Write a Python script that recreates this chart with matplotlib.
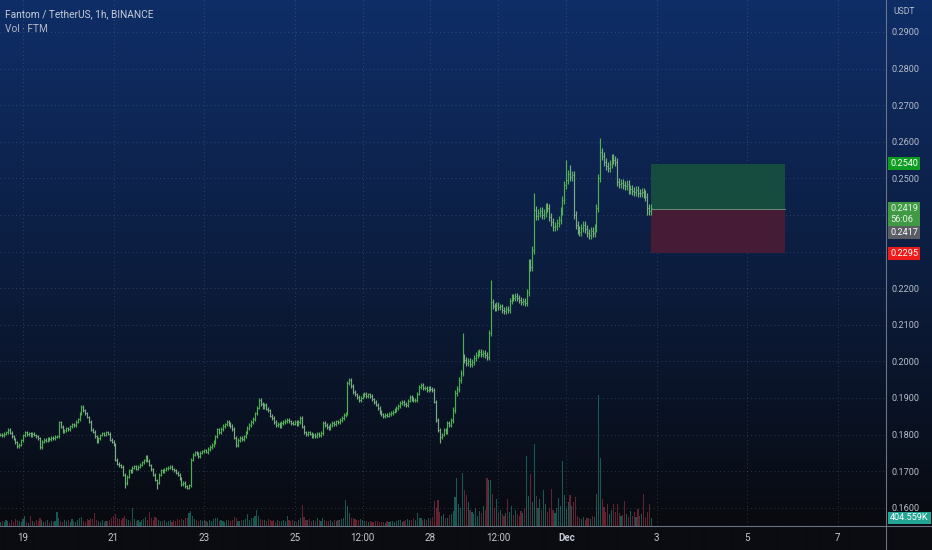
import numpy as np
import pandas as pd
import matplotlib
matplotlib.use("Agg")
import matplotlib.pyplot as plt
import matplotlib.dates as mdates
from matplotlib import font_manager
from matplotlib.lines import Line2D

# ---- data ----
start = "2020-11-18 12:00"   # first hourly bar

closes = [
    0.1800, 0.1798, 0.1802, 0.1806, 0.1813, 0.1805, 0.1796, 0.1788, 0.1779, 0.1768,
    0.1772, 0.1785, 0.1798, 0.1807, 0.1801, 0.1804, 0.1797, 0.1803, 0.1799, 0.1795,
    0.1790, 0.1766, 0.1781, 0.1786, 0.1783, 0.1789, 0.1787, 0.1792, 0.1790, 0.1794,
    0.1795, 0.1834, 0.1822, 0.1808, 0.1812, 0.1818, 0.1815, 0.1823, 0.1829, 0.1826,
    0.1835, 0.1842, 0.1858, 0.1876, 0.1866, 0.1858, 0.1848, 0.1835, 0.1813, 0.1808,
    0.1795, 0.1781, 0.1790, 0.1799, 0.1804, 0.1800, 0.1806, 0.1802, 0.1786, 0.1780,
    0.1772, 0.1731, 0.1720, 0.1716, 0.1712, 0.1690, 0.1667, 0.1685, 0.1703, 0.1698,
    0.1710, 0.1714, 0.1706, 0.1712, 0.1718, 0.1724, 0.1730, 0.1739, 0.1728, 0.1717,
    0.1705, 0.1690, 0.1676, 0.1668, 0.1690, 0.1703, 0.1699, 0.1704, 0.1708, 0.1709,
    0.1712, 0.1706, 0.1702, 0.1696, 0.1690, 0.1680, 0.1664, 0.1668, 0.1659, 0.1655,
    0.1662, 0.1731, 0.1745, 0.1752, 0.1748, 0.1741, 0.1751, 0.1755, 0.1758, 0.1753,
    0.1761, 0.1766, 0.1772, 0.1780, 0.1795, 0.1814, 0.1808, 0.1815, 0.1823, 0.1828,
    0.1834, 0.1829, 0.1824, 0.1816, 0.1792, 0.1772, 0.1785, 0.1791, 0.1787, 0.1795,
    0.1806, 0.1818, 0.1826, 0.1835, 0.1842, 0.1858, 0.1874, 0.1895, 0.1883, 0.1876,
    0.1880, 0.1871, 0.1866, 0.1852, 0.1845, 0.1834, 0.1826, 0.1830, 0.1823, 0.1831,
    0.1835, 0.1838, 0.1841, 0.1836, 0.1832, 0.1830, 0.1835, 0.1829, 0.1834, 0.1845,
    0.1822, 0.1806, 0.1801, 0.1806, 0.1803, 0.1797, 0.1800, 0.1796, 0.1801, 0.1798,
    0.1805, 0.1832, 0.1826, 0.1821, 0.1818, 0.1826, 0.1833, 0.1829, 0.1836, 0.1834,
    0.1840, 0.1846, 0.1853, 0.1858, 0.1941, 0.1949, 0.1932, 0.1916, 0.1910, 0.1902,
    0.1895, 0.1901, 0.1908, 0.1912, 0.1905, 0.1910, 0.1906, 0.1896, 0.1889, 0.1882,
    0.1873, 0.1862, 0.1855, 0.1850, 0.1854, 0.1852, 0.1857, 0.1859, 0.1863, 0.1867,
    0.1872, 0.1879, 0.1886, 0.1890, 0.1884, 0.1881, 0.1893, 0.1903, 0.1898, 0.1894,
    0.1895, 0.1912, 0.1930, 0.1935, 0.1926, 0.1928, 0.1922, 0.1927, 0.1924, 0.1922,
    0.1890, 0.1840, 0.1812, 0.1793, 0.1800, 0.1813, 0.1808, 0.1832, 0.1826, 0.1840,
    0.1868, 0.1914, 0.1925, 0.1950, 0.1968, 0.2012, 0.2003, 0.1996, 0.2001, 0.1994,
    0.1999, 0.2010, 0.2018, 0.2023, 0.2027, 0.2020, 0.2024, 0.2017, 0.2012, 0.2078,
    0.2162, 0.2152, 0.2146, 0.2155, 0.2148, 0.2150, 0.2141, 0.2137, 0.2144, 0.2140,
    0.2165, 0.2176, 0.2172, 0.2180, 0.2174, 0.2168, 0.2162, 0.2165, 0.2160, 0.2190,
    0.2269, 0.2258, 0.2304, 0.2414, 0.2398, 0.2405, 0.2411, 0.2400, 0.2406, 0.2422,
    0.2418, 0.2395, 0.2380, 0.2367, 0.2370, 0.2378, 0.2386, 0.2410, 0.2441, 0.2482,
    0.2495, 0.2512, 0.2505, 0.2509, 0.2400, 0.2373, 0.2360, 0.2354, 0.2365, 0.2373,
    0.2362, 0.2351, 0.2346, 0.2355, 0.2350, 0.2365, 0.2419, 0.2501, 0.2572, 0.2560,
    0.2545, 0.2535, 0.2528, 0.2540, 0.2556, 0.2550, 0.2545, 0.2490, 0.2484, 0.2488,
    0.2482, 0.2479, 0.2484, 0.2468, 0.2472, 0.2466, 0.2463, 0.2467, 0.2461, 0.2460,
    0.2463, 0.2457, 0.2449, 0.2419, 0.2412, 0.2419,
]

# wicks that stick out beyond open/close
wick_high = {245: 0.2078, 260: 0.2222, 283: 0.2460, 300: 0.2550, 302: 0.2537, 318: 0.2610}
wick_low = {66: 0.1655, 83: 0.1650, 99: 0.1650, 233: 0.1777, 343: 0.2400}

# typical extra high-low span of a bar, by stretch of the chart
span_from = [0, 110, 240, 280]
span_size = [0.0008, 0.0010, 0.0016, 0.0022]

# volume in thousands of FTM
volume_k = [
    200, 260, 180, 320, 240, 150, 280, 210, 350, 300,
    260, 190, 330, 480, 220, 170, 500, 260, 200, 310,
    240, 420, 280, 190, 230, 300, 170, 260, 210, 250,
    700, 380, 260, 200, 310, 240, 280, 190, 340, 260,
    220, 300, 380, 450, 260, 210, 330, 280, 400, 350,
    650, 300, 240, 200, 280, 190, 230, 260, 320, 400,
    480, 600, 420, 350, 300, 380, 520, 340, 280, 250,
    900, 360, 240, 300, 220, 280, 330, 450, 300, 700,
    380, 320, 460, 420, 300, 260, 240, 310, 200, 230,
    280, 210, 300, 250, 330, 280, 360, 300, 420, 380,
    650, 750, 480, 350, 300, 260, 280, 230, 310, 250,
    220, 300, 260, 350, 420, 380, 260, 300, 240, 220,
    320, 280, 250, 300, 450, 380, 260, 230, 280, 300,
    340, 600, 300, 380, 420, 480, 800, 520, 350, 300,
    280, 260, 330, 300, 250, 280, 220, 300, 260, 240,
    300, 260, 500, 280, 230, 300, 260, 220, 280, 400,
    1050, 450, 320, 280, 350, 250, 300, 260, 400, 280,
    230, 420, 300, 260, 240, 300, 220, 280, 250, 310,
    280, 350, 400, 1300, 1000, 650, 420, 380, 330, 300,
    280, 350, 300, 260, 230, 200, 250, 220, 180, 240,
    260, 200, 180, 220, 170, 250, 200, 230, 260, 210,
    240, 300, 280, 220, 260, 300, 350, 280, 320, 380,
    300, 650, 420, 380, 300, 350, 280, 400, 330, 450,
    1250, 900, 1300, 700, 500, 600, 420, 380, 550, 600,
    750, 1450, 2400, 1100, 900, 2650, 1800, 1550, 1200, 800,
    700, 600, 900, 500, 750, 650, 1000, 800, 2400, 2300,
    2300, 1600, 900, 1350, 700, 800, 600, 500, 650, 1350,
    700, 1000, 550, 800, 600, 500, 750, 650, 900, 3500,
    1500, 2600, 1200, 4100, 1500, 900, 1350, 800, 1800, 1100,
    700, 900, 1850, 800, 650, 900, 1400, 1000, 3250, 1550,
    900, 1200, 1550, 1000, 1200, 1450, 500, 400, 350, 450,
    300, 380, 420, 350, 500, 450, 1600, 6550, 3400, 1350,
    950, 700, 1100, 600, 800, 1100, 700, 1100, 650, 500,
    550, 1250, 600, 450, 750, 500, 700, 450, 850, 500,
    600, 1600, 450, 700, 1100, 404.559,
]

# long position tool
target_price = 0.2540
entry_price = 0.2417
stop_price = 0.2295
position_hours = 71
countdown = "56:06"

price_ticks = [0.16, 0.17, 0.18, 0.19, 0.20, 0.21, 0.22, 0.23, 0.24,
               0.25, 0.26, 0.27, 0.28, 0.29]
hidden_price_ticks = [0.23, 0.24]   # covered by the tags on the scale
time_ticks = ["2020-11-19 00:00", "2020-11-21 00:00", "2020-11-23 00:00", "2020-11-25 00:00",
              "2020-11-26 12:00", "2020-11-28 00:00", "2020-11-29 12:00",
              "2020-12-01 00:00", "2020-12-03 00:00", "2020-12-05 00:00", "2020-12-07 00:00"]
time_labels = ["19", "21", "23", "25", "12:00", "28", "12:00", "Dec", "3", "5", "7"]

title = "Fantom / TetherUS, 1h, BINANCE"
subtitle = "Vol · FTM"

# ---- fonts ----
names = {f.name for f in font_manager.fontManager.ttflist}
FONT = "DejaVu Sans"
for fam in ["Liberation Sans Narrow", "Roboto", "DejaVu Sans"]:
    if fam in names:
        FONT = fam
        break
plt.rcParams["font.family"] = [FONT, "DejaVu Sans"]

TXT = "#b7bdc9"
W, H = 932, 550
PLOT_R, PLOT_B = 886, 526   # pixel edges of the chart pane

# ---- derived ohlc ----
times = pd.date_range(start, periods=len(closes), freq="h")
t = mdates.date2num(times.to_pydatetime())
hour = 1 / 24
closes = np.array(closes)
opens = np.r_[closes[0], closes[:-1]]
span = np.array(span_size)[np.searchsorted(span_from, np.arange(len(closes)), side="right") - 1]
highs = np.maximum(opens, closes) + span / 2
lows = np.minimum(opens, closes) - span / 2
for k, v in wick_high.items():
    highs[k] = max(highs[k], v)
for k, v in wick_low.items():
    lows[k] = min(lows[k], v)
up = closes >= opens

fig = plt.figure(figsize=(W / 100, H / 100), dpi=100)
fig.patch.set_facecolor("#0a0c11")

# background gradient (dark blue -> black), time strip black
bg = fig.add_axes([0, 0, 1, 1])
top_c = np.array([15, 45, 102]) / 255
bot_c = np.array([8, 10, 15]) / 255
f = np.linspace(0, 1, PLOT_B)[:, None] ** 1.15
grad = top_c * (1 - f) + bot_c * f
strip = np.tile(np.array([10, 12, 17]) / 255, (H - PLOT_B, 1))
img = np.vstack([grad, strip])[:, None, :]
bg.imshow(img, aspect="auto", extent=[0, 1, 0, 1], interpolation="bilinear")
bg.set_axis_off()

ax = fig.add_axes([0, 1 - PLOT_B / H, PLOT_R / W, PLOT_B / H])
ax.set_facecolor("none")
ax2 = ax.twinx()
ax.set_zorder(ax2.get_zorder() + 1)
ax.patch.set_visible(False)

# volume
vol_colors = np.where(up, "#1f8a7e", "#9a3246")
ax2.bar(t, volume_k, width=0.6 * hour, color=vol_colors, alpha=0.62, linewidth=0)
ax2.set_ylim(0, 26300)
ax2.set_axis_off()

# ohlc bars
bar_colors = np.where(up, "#4caf50", "#7aac84")
ax.vlines(t, lows, highs, colors=bar_colors, linewidth=0.85)
ax.hlines(opens, t - 0.45 * hour, t, colors=bar_colors, linewidth=0.6)
ax.hlines(closes, t, t + 0.45 * hour, colors=bar_colors, linewidth=0.6)

# position tool
x0 = t[-1]
x1 = t[-1] + position_hours * hour
ax.fill_between([x0, x1], entry_price, target_price, color="#17503e", alpha=0.92, linewidth=0, zorder=1)
ax.fill_between([x0, x1], stop_price, entry_price, color="#4c1b35", alpha=0.92, linewidth=0, zorder=1)
ax.plot([x0, x1], [entry_price, entry_price], color="#6f8a7a", linewidth=0.7, zorder=1)

# axes limits (pixel-calibrated)
ax.set_ylim(0.29 - 494 / 3660, 0.29 + 32 / 3660)
t_first = t[0]
ax.set_xlim(t_first - 0.19 * hour, t_first + 469.5 * hour)

# grid
grid_kw = dict(color="#8a9bbd", alpha=0.28, linewidth=0.7, linestyle=(0, (1, 3)))
tick_t = mdates.date2num(pd.to_datetime(time_ticks, format="%Y-%m-%d %H:%M").to_pydatetime())
for p in price_ticks:
    ax.axhline(p, zorder=0, **grid_kw)
for x in tick_t:
    ax.axvline(x, zorder=0, **grid_kw)

# price scale on the right
ax.yaxis.tick_right()
ax.set_yticks(price_ticks)
ax.set_yticklabels(["" if p in hidden_price_ticks else f"{p:.4f}" for p in price_ticks])
ax.tick_params(axis="y", length=0, pad=4.3, labelsize=6.6, labelcolor=TXT)
ax.set_xticks(tick_t)
ax.set_xticklabels(time_labels)
ax.tick_params(axis="x", length=0, pad=5, labelsize=7, labelcolor="#c3c8d2")
for lab in ax.get_xticklabels():
    if lab.get_text() == "Dec":
        lab.set_fontweight("bold")
for s in ax.spines.values():
    s.set_visible(False)

# separators
fig.add_artist(Line2D([PLOT_R / W] * 2, [0, 1], transform=fig.transFigure, color="#6a7386", linewidth=0.8))
fig.add_artist(Line2D([0, 1], [1 - PLOT_B / H] * 2, transform=fig.transFigure, color="#6a7386", linewidth=0.8))

# tags on the price scale
def tag(axis, value, text, face, dy=0, color="white"):
    axis.annotate(text, xy=(1, value), xycoords=axis.get_yaxis_transform(),
                  xytext=(3, dy), textcoords="offset points", ha="left", va="center",
                  fontsize=6.6, color=color, annotation_clip=False, zorder=10,
                  bbox=dict(boxstyle="square,pad=0.2", fc=face, ec="none"))

tag(ax, target_price, f"{target_price:.4f}", "#0d9d20")
tag(ax, closes[-1], f"{closes[-1]:.4f}\n{countdown}", "#3f9a43", dy=-4.3, color="#e8f2e8")
tag(ax, entry_price, f"{entry_price:.4f}", "#5a5d63", dy=-17.0)
tag(ax, stop_price, f"{stop_price:.4f}", "#ef1a1a")
tag(ax2, volume_k[-1], f"{volume_k[-1]:.3f}K", "#22a596")

fig.text(893 / W, 1 - 12 / H, "USDT", fontsize=6.2, color=TXT, va="center")
fig.text(5 / W, 1 - 14 / H, title, fontsize=7.3, color="#c6ccd8", va="center")
fig.text(5 / W, 1 - 29 / H, subtitle, fontsize=7.3, color="#b0b7c4", va="center")

fig.savefig("out.png", dpi=100, facecolor=fig.get_facecolor())
